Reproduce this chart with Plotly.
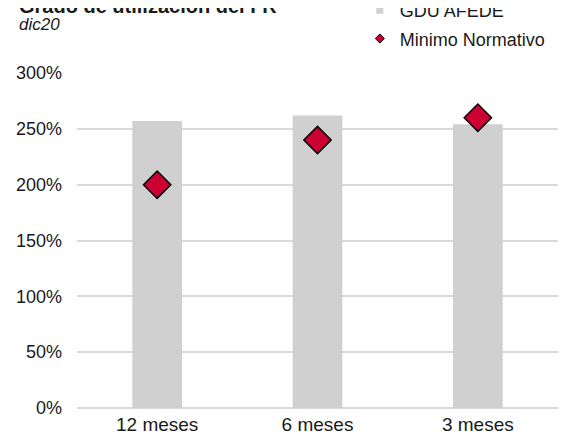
import plotly.graph_objects as go

CATEGORIES = ["12 meses", "6 meses", "3 meses"]
GDU_AFEDE = [257, 262, 254]          # % grado de utilización
MINIMO_NORMATIVO = [200, 240, 260]   # %

Y_TICKS = [0, 50, 100, 150, 200, 250, 300]
Y_TICK_LABELS = ["0%", "50%", "100%", "150%", "200%", "250%", "300%"]

BAR_COLOUR = "#D0D0D0"
MARKER_COLOUR = "#CC0033"
FONT = "Liberation Sans, Arial, sans-serif"

fig = go.Figure()

fig.add_trace(go.Bar(
    x=CATEGORIES, y=GDU_AFEDE, name="GDU AFEDE",
    marker=dict(color=BAR_COLOUR, line=dict(width=0)),
    width=0.31, showlegend=False,
))
fig.add_trace(go.Scatter(
    x=CATEGORIES, y=MINIMO_NORMATIVO, name="Minimo Normativo",
    mode="markers",
    marker=dict(symbol="diamond", size=21, color=MARKER_COLOUR,
                line=dict(color="black", width=1.5)),
    showlegend=False,
))

# legend-only entries (small symbols like the original)
fig.add_trace(go.Scatter(
    x=[None], y=[None], name="GDU AFEDE", mode="markers",
    marker=dict(symbol="square", size=7, color=BAR_COLOUR),
    legendgroup="a",
))
fig.add_trace(go.Scatter(
    x=[None], y=[None], name="Minimo Normativo", mode="markers",
    marker=dict(symbol="diamond", size=7, color=MARKER_COLOUR,
                line=dict(color="black", width=1)),
    legendgroup="b",
))

fig.update_yaxes(
    range=[0, 300], tickvals=Y_TICKS, ticktext=Y_TICK_LABELS,
    showgrid=True, gridcolor="#D9D9D9", gridwidth=1.5,
    zeroline=True, zerolinecolor="#D9D9D9", zerolinewidth=1.5,
    showline=False, ticks="", ticklabelstandoff=14,
    tickfont=dict(size=18, color="#1a1a1a"),
)
fig.update_xaxes(
    showgrid=False, showline=False, ticks="", ticklabelstandoff=3,
    tickfont=dict(size=19, color="#1a1a1a"),
)

fig.add_annotation(
    text="<b>Grado de utilización del FR</b>", xref="paper", yref="paper",
    x=-0.125, y=1.2, xanchor="left", yanchor="middle", showarrow=False,
    font=dict(size=20, color="#1a1a1a", family=FONT),
)
fig.add_annotation(
    text="<i>dic20</i>", xref="paper", yref="paper",
    x=-0.125, y=1.145, xanchor="left", yanchor="middle", showarrow=False,
    font=dict(size=17, color="#1a1a1a", family=FONT),
)

fig.update_layout(
    width=569, height=440,
    plot_bgcolor="white", paper_bgcolor="white",
    font=dict(family=FONT, size=18, color="#1a1a1a"),
    margin=dict(l=69, r=19, t=65, b=40, autoexpand=False),
    bargap=0.69,
    legend=dict(
        x=0.588, y=1.242, xanchor="left", yanchor="top",
        traceorder="grouped", tracegroupgap=2,
        font=dict(size=18), bgcolor="rgba(0,0,0,0)",
        itemwidth=30,
    ),
)

fig.write_html("out.html")
